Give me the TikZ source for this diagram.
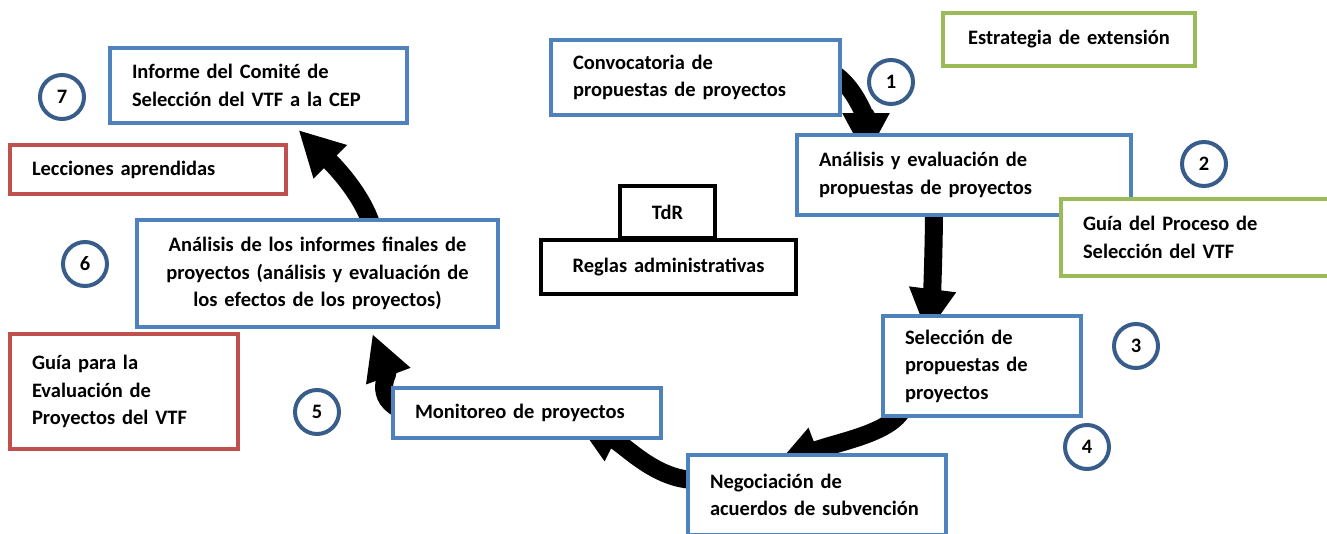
\documentclass[tikz,border=0pt]{standalone}
\usepackage{fontspec}
\setmainfont{Carlito}
\usetikzlibrary{arrows.meta,calc,backgrounds}
\definecolor{stageblue}{HTML}{4F81BD}
\definecolor{guidegreen}{HTML}{9BBB59}
\definecolor{lessonred}{HTML}{C0504D}
\definecolor{stepblue}{HTML}{385D8A}
\tikzset{
  cardbox/.style={fill=white, line width=4pt, inner xsep=22pt, inner ysep=0pt,
    font=\fontsize{20.5}{27.5}\selectfont\bfseries},
  stage/.style={cardbox, draw=stageblue, align=left},
  guide/.style={cardbox, draw=guidegreen, align=left},
  lesson/.style={cardbox, draw=lessonred, align=left},
  rulebox/.style={cardbox, draw=black, align=center},
  stepmark/.style={circle, draw=stepblue, line width=4pt, minimum size=44pt, inner sep=0pt,
    font=\fontsize{20.5}{27}\selectfont\bfseries},
  cyclearrow/.style={line width=18pt, line cap=round, -{Triangle[length=45pt,width=44pt]}}
}
\newcommand{\stepno}[3]{\node[stepmark] (#1) at (#2) {#3};}

\begin{document}
\begin{tikzpicture}[x=1pt, y=-1pt]
    \useasboundingbox (0,0) rectangle (1327,533);
    \clip (0,0) rectangle (1327,533);
    \node[stage, text width=245pt, minimum height=75pt] (conv) at (695.5,77.5) {Convocatoria de\\propuestas de proyectos};
    \node[stage, text width=290pt, minimum height=80pt] (anal) at (964,175) {Análisis y evaluación de\\propuestas de proyectos};
    \node[stage, text width=154pt, minimum height=100pt] (sel) at (982,366) {Selección de\\propuestas de\\proyectos};
    \node[stage, text width=214pt, minimum height=80pt] (nego) at (817,495) {Negociación de\\acuerdos de subvención};
    \node[stage, text width=224pt, minimum height=50pt] (moni) at (527,413) {Monitoreo de proyectos};
    \node[stage, align=center, text width=317pt, minimum height=107pt] (final) at (317.5,273.5) {Análisis de los informes finales de\\proyectos (análisis y evaluación de\\los efectos de los proyectos)};
    \node[stage, text width=253pt, minimum height=75pt] (comite) at (258.5,85.5) {Informe del Comité de\\Selección del VTF a la CEP};
    \node[guide, align=center, text width=208pt, minimum height=53pt] (ext) at (1069,39.5) {Estrategia de extensión};
    \node[guide, text width=232pt, minimum height=77pt] (guiasel) at (1199,237.5) {Guía del Proceso de\\Selección del VTF};
    \node[lesson, text width=232pt, minimum height=49pt] (lecc) at (148,169.5) {Lecciones aprendidas};
    \node[lesson, text width=184pt, minimum height=115pt] (guiaeval) at (124,391.5) {Guía para la\\Evaluación de\\Proyectos del VTF};
    \node[rulebox, text width=51pt, minimum height=52pt] (tdr) at (667.5,212) {TdR};
    \node[rulebox, text width=211pt, minimum height=54pt] (reglas) at (668.5,267) {Reglas administrativas};
    \stepno{n1}{891,82}{1}
    \stepno{n2}{1204,164}{2}
    \stepno{n3}{1136,346}{3}
    \stepno{n4}{1087,447}{4}
    \stepno{n5}{317,412}{5}
    \stepno{n6}{85,264}{6}
    \stepno{n7}{62,97}{7}
    \begin{scope}[on background layer]
    \draw[cyclearrow] ($(conv.east)+(-10,-5)$) .. controls +(25,15) and +(0,-35) .. ($(anal.north)+(-98,25)$);
    \draw[cyclearrow] ($(anal.south)+(-30,-10)$) .. controls +(0,40) and +(5,-40) .. ($(sel.north)+(-55,20)$);
    \draw[cyclearrow] ($(sel.south)+(-77,-16)$) .. controls +(-5,30) and +(65,-25) .. ($(nego.north)+(-42,13)$);
    \draw[cyclearrow] ($(nego.west)+(10,-15)$) .. controls +(-40,0) and +(50,25) .. ($(moni.south)+(48,-20)$);
    \draw[cyclearrow] ($(moni.west)+(20,0)$) .. controls +(-40,-10) and +(15,40) .. ($(final.south)+(55,5)$);
    \draw[cyclearrow] ($(final.north)+(55,10)$) .. controls +(-10,-35) and +(32,32) .. ($(comite.south)+(40,5)$);
    \end{scope}
\end{tikzpicture}
\end{document}
